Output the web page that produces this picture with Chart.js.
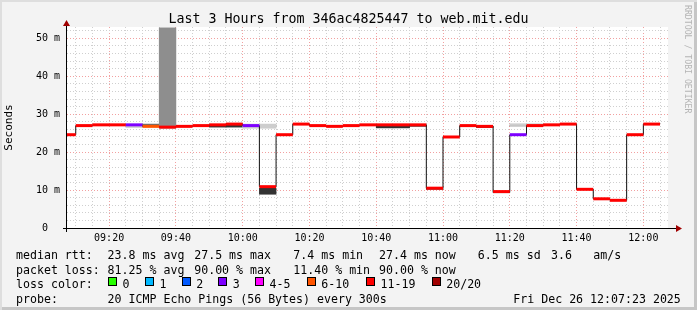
<!DOCTYPE html>
<html>
<head>
<meta charset="utf-8">
<script src="https://cdn.jsdelivr.net/npm/chart.js@4/dist/chart.umd.min.js"></script>
<style>
  body { margin: 0; background: #f3f3f3; }
  #frame {
    position: relative; width: 697px; height: 310px; background: #f3f3f3; overflow: hidden;
    box-shadow: inset 2px 2px 0 #dedede, inset -3px -3px 0 #c6c6c6;
    font-family: "DejaVu Sans Mono", monospace; color: #000;
  }
  #chart { position: absolute; left: 0; top: 0; }
  .txt { position: absolute; white-space: pre; font-size: 11.6px; line-height: 14px; }
  #title { position: absolute; left: 0; width: 697px; top: 11px; text-align: center; font-size: 13.3px; line-height: 16px; white-space: pre; }
  #mark { position: absolute; left: 683px; top: 5px; writing-mode: vertical-rl; font-size: 8.2px; color: #b4b4b4; white-space: pre; }
  .box { position: absolute; width: 7px; height: 7px; border: 1px solid #000; }
</style>
</head>
<body>
<div id="frame">
  <canvas id="chart" width="697" height="310"></canvas>
  <div id="title">Last 3 Hours from 346ac4825447 to web.mit.edu</div>
  <div id="mark">RRDTOOL / TOBI OETIKER</div>
</div>
<script>
// time window
const rangeStart = "09:07:23";
const rangeEnd = "12:07:23";
const slotMinutes = 5;

// 5-minute slots: start time, median rtt (ms), loss bucket
const slotStart = ["09:05", "09:10", "09:15", "09:20", "09:25", "09:30", "09:35", "09:40", "09:45",
  "09:50", "09:55", "10:00", "10:05", "10:10", "10:15", "10:20", "10:25", "10:30", "10:35",
  "10:40", "10:45", "10:50", "10:55", "11:00", "11:05", "11:10", "11:15", "11:20", "11:25",
  "11:30", "11:35", "11:40", "11:45", "11:50", "11:55", "12:00"];
const medianMs = [24.6, 27.0, 27.2, 27.2, 27.2, 26.8, 26.6, 26.8, 27.0,
  27.2, 27.4, 27.0, 10.9, 24.6, 27.4, 27.0, 26.8, 27.0, 27.2,
  27.2, 27.2, 27.2, 10.5, 24.0, 27.0, 26.8, 9.6, 24.6, 27.0,
  27.2, 27.4, 10.2, 7.7, 7.3, 24.6, 27.4];
const lossBucket = ["11-19", "11-19", "11-19", "11-19", "3", "6-10", "11-19", "11-19", "11-19",
  "11-19", "11-19", "3", "11-19", "11-19", "11-19", "11-19", "11-19", "11-19", "11-19",
  "11-19", "11-19", "11-19", "11-19", "11-19", "11-19", "11-19", "11-19", "3", "11-19",
  "11-19", "11-19", "11-19", "11-19", "11-19", "11-19", "11-19"];

// smoke bands: [slot, low ms, high ms]
const smokeLight = [["09:25", 26.5, 27.2], ["10:00", 26.3, 27.4], ["10:05", 26.3, 27.4], ["11:20", 27.0, 27.5], ["11:25", 27.1, 27.5]];
const smokeMid = [["09:35", 26.3, 52.8]];
const smokeDark = [["09:30", 27.0, 27.4], ["10:05", 26.9, 27.1], ["11:20", 26.9, 27.1]];
const smokeBlack = [["09:50", 26.6, 27.2], ["09:55", 26.6, 27.4], ["10:05", 8.9, 10.5], ["10:40", 26.4, 27.2],
  ["10:45", 26.4, 27.2], ["10:50", 26.8, 27.2], ["10:55", 10.2, 10.5], ["11:10", 26.5, 26.8], ["11:15", 9.3, 9.6]];

// loss colour legend
const lossNames = ["0", "1", "2", "3", "4-5", "6-10", "11-19", "20/20"];
const lossColors = ["#26ff00", "#00b8ff", "#0059ff", "#7e00ff", "#ff00ff", "#ff5500", "#ff0000", "#a00000"];

// axes
const yMax = 53;
const yTickLabels = ["0  ", "10 m", "20 m", "30 m", "40 m", "50 m"];
const xTickLabels = ["09:20", "09:40", "10:00", "10:20", "10:40", "11:00", "11:20", "11:40", "12:00"];

// text rows
const rttLabel = "median rtt:";
const rttStats = ["23.8 ms avg", "27.5 ms max", "7.4 ms min", "27.4 ms now", "6.5 ms sd", "3.6", "am/s"];
const lossLabel = "packet loss:";
const lossStats = ["81.25 % avg", "90.00 % max", "11.40 % min", "90.00 % now"];
const probeText = "20 ICMP Echo Pings (56 Bytes) every 300s";
const stampText = "Fri Dec 26 12:07:23 2025";

function toMin(s) {
  const p = s.split(":").map(Number);
  return p[0] * 60 + p[1] + (p[2] || 0) / 60;
}
function fmtMin(v) {
  const h = Math.floor(v / 60), m = Math.round(v % 60);
  return String(h).padStart(2, "0") + ":" + String(m).padStart(2, "0");
}

const xMin = toMin(rangeStart), xMax = toMin(rangeEnd);
const xTicks = [];
for (let t = Math.ceil(xMin / slotMinutes) * slotMinutes; t < xMax; t += slotMinutes) xTicks.push(t);
const yTicks = [];
for (let v = 0; v < yMax; v += 2) yTicks.push(v);

// thin black step line
const stepData = slotStart.map((s, i) => ({ x: toMin(s), y: medianMs[i] }));
stepData.push({ x: toMin(slotStart[slotStart.length - 1]) + slotMinutes, y: medianMs[medianMs.length - 1] });

// coloured median pieces
const medData = [], medColor = [];
slotStart.forEach((s, i) => {
  const t0 = toMin(s), t1 = t0 + slotMinutes;
  const c = lossColors[lossNames.indexOf(lossBucket[i])];
  medData.push({ x: t0, y: medianMs[i] }, { x: t1, y: medianMs[i] }, { x: t1, y: null });
  medColor.push(c, c, c);
});

function smokeSet(list, color) {
  return {
    type: "bar",
    data: list.map(r => ({ x: toMin(r[0]) + slotMinutes / 2, y: [r[1], r[2]] })),
    backgroundColor: color, borderWidth: 0, grouped: false,
    barPercentage: 1, categoryPercentage: 1, order: 5
  };
}

const frame = {
  id: "frame",
  beforeDraw(chart) {
    const { ctx, chartArea: a } = chart;
    ctx.save();
    ctx.fillStyle = "#fff";
    ctx.fillRect(a.left, a.top, a.right - a.left, a.bottom - a.top);
    ctx.restore();
  },
  afterDraw(chart) {
    const { ctx, chartArea: a } = chart;
    ctx.save();
    ctx.strokeStyle = "#000";
    ctx.lineWidth = 1;
    ctx.beginPath();
    ctx.moveTo(a.left - 4, a.bottom + 0.5);
    ctx.lineTo(a.right + 9, a.bottom + 0.5);
    ctx.moveTo(a.left - 0.5, a.bottom + 4);
    ctx.lineTo(a.left - 0.5, a.top - 3);
    ctx.stroke();
    ctx.fillStyle = "#a00000";
    ctx.beginPath();
    ctx.moveTo(a.right + 14, a.bottom + 0.5);
    ctx.lineTo(a.right + 8, a.bottom - 3);
    ctx.lineTo(a.right + 8, a.bottom + 4);
    ctx.closePath();
    ctx.fill();
    ctx.beginPath();
    ctx.moveTo(a.left - 0.5, a.top - 7);
    ctx.lineTo(a.left - 4, a.top - 1);
    ctx.lineTo(a.left + 3, a.top - 1);
    ctx.closePath();
    ctx.fill();
    ctx.restore();
  }
};

new Chart(document.getElementById("chart"), {
  type: "bar",
  data: {
    datasets: [
      { type: "line", data: medData, borderWidth: 3, pointRadius: 0, spanGaps: false, order: 1,
        borderColor: "#ff0000", segment: { borderColor: c => medColor[c.p0DataIndex] } },
      { type: "line", data: stepData, stepped: true, borderWidth: 1, borderColor: "#111", pointRadius: 0, order: 2 },
      smokeSet(smokeLight, "#cdcdcd"),
      smokeSet(smokeMid, "#8e8e8e"),
      smokeSet(smokeDark, "#6e6e6e"),
      smokeSet(smokeBlack, "#333333")
    ]
  },
  options: {
    responsive: false,
    animation: false,
    devicePixelRatio: 1,
    layout: { padding: { top: 27, right: 29, bottom: 0, left: 0 } },
    plugins: { legend: { display: false }, tooltip: { enabled: false }, title: { display: false } },
    scales: {
      x: {
        type: "linear", min: xMin, max: xMax, offset: false,
        afterBuildTicks: s => { s.ticks = xTicks.map(v => ({ value: v })); },
        afterFit: s => { s.height = 82; },
        grid: { offset: false, drawTicks: false, color: c => (c.tick && c.tick.value % 20 === 0) ? "#f2a0a0" : "#cfcfcf" },
        border: { display: false, dash: [1, 2] },
        ticks: {
          autoSkip: false, maxRotation: 0, padding: 4, color: "#000",
          font: { family: "DejaVu Sans Mono", size: 10 },
          callback: v => xTickLabels.includes(fmtMin(v)) && v % 20 === 0 ? fmtMin(v) : ""
        }
      },
      y: {
        min: 0, max: yMax,
        afterBuildTicks: s => { s.ticks = yTicks.map(v => ({ value: v })); },
        afterFit: s => { s.width = 67; },
        grid: { drawTicks: false, color: c => (c.tick && c.tick.value % 10 === 0) ? "#f2a0a0" : "#cfcfcf" },
        border: { display: false, dash: [1, 2] },
        ticks: {
          padding: 7, color: "#000", autoSkip: false,
          font: { family: "DejaVu Sans Mono", size: 10 },
          callback: v => v % 10 === 0 ? yTickLabels[v / 10] : ""
        },
        title: { display: true, text: "Seconds", color: "#000", padding: { top: 3, bottom: 0 },
          font: { family: "DejaVu Sans Mono", size: 11 } }
      }
    }
  },
  plugins: [frame]
});

// legend rows
const box = document.getElementById("frame");
function put(text, x, y) {
  const d = document.createElement("div");
  d.className = "txt";
  d.textContent = text;
  d.style.left = x + "px";
  d.style.top = (y - 7) + "px";
  box.appendChild(d);
}
const statCols = [107.6, 194.2, 293.3, 379, 477.8, 551, 593.3];
put(rttLabel, 16, 255);
rttStats.forEach((t, i) => put(t, statCols[i], 255));
put(lossLabel, 16, 269.5);
lossStats.forEach((t, i) => put(t, statCols[i], 269.5));
put("loss color:", 16, 284);
const swatchX = [108, 145, 181.7, 218.3, 255, 306.7, 366, 431.7];
lossNames.forEach((n, i) => {
  const b = document.createElement("div");
  b.className = "box";
  b.style.left = swatchX[i] + "px";
  b.style.top = "277px";
  b.style.background = lossColors[i];
  box.appendChild(b);
  put(n, swatchX[i] + 14.5, 284);
});
put("probe:", 16, 298.5);
put(probeText, 107.6, 298.5);
put(stampText, 513.3, 298.5);
</script>
</body>
</html>
